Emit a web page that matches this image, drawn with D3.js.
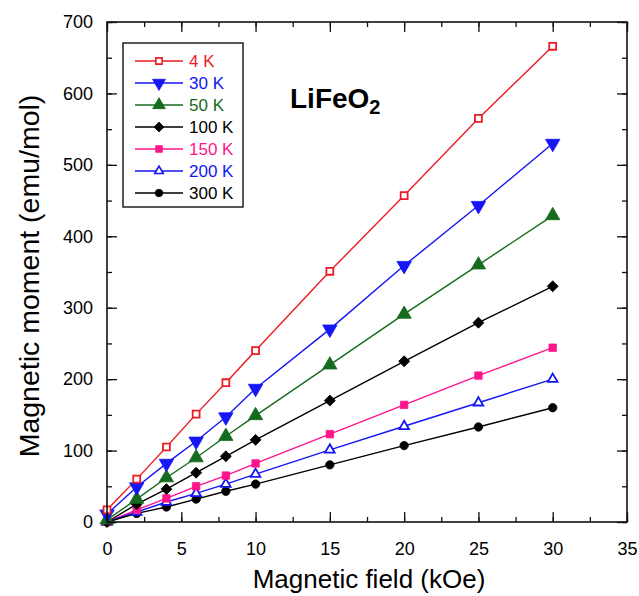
<!DOCTYPE html>
<html lang="en">
<head>
<meta charset="UTF-8">
<title>LiFeO2 magnetic moment</title>
<script src="https://d3js.org/d3.v7.min.js"></script>
<style>
  body { margin: 0; background: #fff; font-family: Arial, "Liberation Sans", sans-serif; }
  svg { display: block; }
</style>
</head>
<body>
<div id="chart"></div>
<script>
// field values (kOe)
const field = [0, 2, 4, 6, 8, 10, 15, 20, 25, 30];

// magnetic moment (emu/mol) per temperature
const m4K   = [17, 60, 105, 151, 195, 240, 351, 457, 565, 666];
const m30K  = [11, 49, 82, 113, 147, 187, 270, 359, 443, 530];
const m50K  = [3, 32, 62, 90, 120, 149, 220, 291, 360, 429];
const m100K = [0, 25, 46, 69, 92, 115, 170, 225, 279, 330];
const m150K = [0, 17, 33, 50, 65, 82, 123, 164, 205, 244];
const m200K = [0, 14, 28, 40, 53, 67, 101, 134, 167, 200];
const m300K = [0, 12, 21, 32, 43, 53, 80, 107, 133, 160];

const labels = ["4 K", "30 K", "50 K", "100 K", "150 K", "200 K", "300 K"];
const xTicks = [0, 5, 10, 15, 20, 25, 30, 35];
const yTicks = [0, 100, 200, 300, 400, 500, 600, 700];

const series = [
  { name: labels[0], values: m4K,   color: "#ec1c24", shape: "square",  open: true,  size: 48 },
  { name: labels[1], values: m30K,  color: "#1515f5", shape: "tridown", open: false, size: 90 },
  { name: labels[2], values: m50K,  color: "#146b1e", shape: "triangle", open: false, size: 88 },
  { name: labels[3], values: m100K, color: "#000000", shape: "diamond", open: false, size: 60 },
  { name: labels[4], values: m150K, color: "#ff148c", shape: "square",  open: false, size: 55 },
  { name: labels[5], values: m200K, color: "#1515f5", shape: "triangle", open: true,  size: 40 },
  { name: labels[6], values: m300K, color: "#000000", shape: "circle",  open: false, size: 55 }
];

const width = 639, height = 596;
const margin = { top: 22, right: 12, bottom: 74, left: 107 };
const w = width - margin.left - margin.right;
const h = height - margin.top - margin.bottom;

const x = d3.scaleLinear().domain([0, 35]).range([0, w]);
const y = d3.scaleLinear().domain([0, 700]).range([h, 0]);

const svg = d3.select("#chart").append("svg")
  .attr("width", width).attr("height", height);
const g = svg.append("g").attr("transform", `translate(${margin.left},${margin.top})`);

// symbol paths (diamond = square turned 45 degrees)
function symbolPath(shape, size) {
  const types = { square: d3.symbolSquare, diamond: d3.symbolSquare, triangle: d3.symbolTriangle, tridown: d3.symbolTriangle, circle: d3.symbolCircle };
  return d3.symbol().type(types[shape]).size(size)();
}
function symbolRot(shape) {
  if (shape === "tridown") return " rotate(180)";
  if (shape === "diamond") return " rotate(45)";
  return "";
}

// series lines and markers
const line = d3.line().x((d, i) => x(field[i])).y(d => y(d));

series.forEach(s => {
  g.append("path")
    .attr("d", line(s.values))
    .attr("fill", "none")
    .attr("stroke", s.color)
    .attr("stroke-width", 1.4);
});
series.slice().reverse().forEach(s => {
  g.append("g").selectAll("path")
    .data(s.values)
    .join("path")
    .attr("transform", (d, i) => `translate(${x(field[i])},${y(d)})${symbolRot(s.shape)}`)
    .attr("d", symbolPath(s.shape, s.size))
    .attr("fill", s.open ? "#fff" : s.color)
    .attr("stroke", s.color)
    .attr("stroke-width", s.open ? 1.8 : 0.8);
});

// frame with inward ticks on all sides
const axisColor = "#111";
const minorX = d3.range(0, 35.01, 2.5);
const minorY = d3.range(0, 700.1, 50);

function tickAxis(axisGen, transform) {
  const a = g.append("g").attr("transform", transform).call(axisGen);
  a.select(".domain").remove();
  a.selectAll("line").attr("stroke", axisColor).attr("stroke-width", 1.3);
  return a;
}

// minor ticks
tickAxis(d3.axisBottom(x).tickValues(minorX).tickSize(-5).tickFormat(""), `translate(0,${h})`);
tickAxis(d3.axisTop(x).tickValues(minorX).tickSize(-5).tickFormat(""), "translate(0,0)");
tickAxis(d3.axisLeft(y).tickValues(minorY).tickSize(-5).tickFormat(""), "translate(0,0)");
tickAxis(d3.axisRight(y).tickValues(minorY).tickSize(-5).tickFormat(""), `translate(${w},0)`);

// major ticks with labels
const xb = tickAxis(d3.axisBottom(x).tickValues(xTicks).tickSize(-10).tickPadding(20).tickFormat(d3.format("d")), `translate(0,${h})`);
xb.selectAll("text").attr("font-size", 18).attr("font-family", "Arial, 'Liberation Sans', sans-serif").attr("fill", "#000");
tickAxis(d3.axisTop(x).tickValues(xTicks).tickSize(-10).tickFormat(""), "translate(0,0)");
const yl = tickAxis(d3.axisLeft(y).tickValues(yTicks).tickSize(-10).tickPadding(14).tickFormat(d3.format("d")), "translate(0,0)");
yl.selectAll("text").attr("font-size", 18).attr("font-family", "Arial, 'Liberation Sans', sans-serif").attr("fill", "#000");
tickAxis(d3.axisRight(y).tickValues(yTicks).tickSize(-10).tickFormat(""), `translate(${w},0)`);

g.append("rect")
  .attr("width", w).attr("height", h)
  .attr("fill", "none").attr("stroke", axisColor).attr("stroke-width", 1.6);

// axis titles
svg.append("text")
  .attr("x", 369).attr("y", 588)
  .attr("text-anchor", "middle")
  .attr("font-size", 26)
  .text("Magnetic field (kOe)");
svg.append("text")
  .attr("transform", "translate(39,276) rotate(-90)")
  .attr("text-anchor", "middle")
  .attr("font-size", 28.5)
  .text("Magnetic moment (emu/mol)");

// compound label
const t = svg.append("text")
  .attr("x", 290).attr("y", 108)
  .attr("font-size", 28).attr("font-weight", "bold");
t.append("tspan").text("LiFeO");
t.append("tspan").attr("font-size", 20).attr("dy", 6).text("2");

// legend
const lg = svg.append("g").attr("transform", "translate(123,43)");
lg.append("rect")
  .attr("width", 120).attr("height", 164)
  .attr("fill", "#fff").attr("stroke", axisColor).attr("stroke-width", 1.4);
series.forEach((s, i) => {
  const yy = 18 + i * 22;
  const row = lg.append("g").attr("transform", `translate(0,${yy})`);
  row.append("line").attr("x1", 12).attr("x2", 60).attr("stroke", s.color).attr("stroke-width", 1.4);
  row.append("path")
    .attr("transform", `translate(36,0)${symbolRot(s.shape)}`)
    .attr("d", symbolPath(s.shape, s.size * 0.8))
    .attr("fill", s.open ? "#fff" : s.color)
    .attr("stroke", s.color)
    .attr("stroke-width", s.open ? 1.6 : 0.8);
  row.append("text")
    .attr("x", 66).attr("y", 6)
    .attr("font-size", 17)
    .attr("fill", s.color)
    .text(s.name);
});
</script>
</body>
</html>
